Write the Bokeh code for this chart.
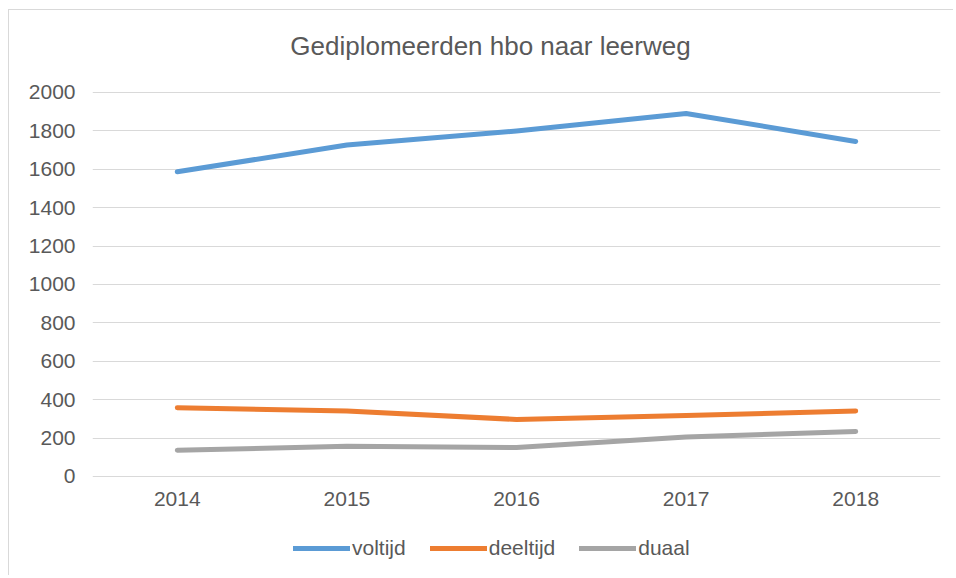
from bokeh.plotting import figure
from bokeh.models import FactorRange, Range1d, Legend, LegendItem
from bokeh.core.properties import value
from bokeh.embed import file_html
from bokeh.resources import INLINE

title_text = "Gediplomeerden hbo naar leerweg"
years = ["2014", "2015", "2016", "2017", "2018"]
voltijd = [1587, 1726, 1799, 1891, 1745]
deeltijd = [358, 341, 297, 318, 341]
duaal = [137, 157, 151, 205, 234]
y_ticks = [0, 200, 400, 600, 800, 1000, 1200, 1400, 1600, 1800, 2000]

FONT = "Liberation Sans"
TXT = "#595959"

# frame extends above and below the value area so title and legend sit inside it
p = figure(width=945, height=566, x_range=FactorRange(*years, range_padding=0),
           y_range=Range1d(-521, 2427), output_backend="svg", toolbar_location=None,
           min_border_left=83, min_border_right=14, min_border_top=0, min_border_bottom=0)
p.styles = {"margin-left": "8px", "margin-top": "9px",
            "border-left": "1px solid #d9d9d9", "border-top": "1px solid #d9d9d9"}

r1 = p.line(years, voltijd, line_color="#5B9BD5", line_width=5, line_cap="round", line_join="round")
r2 = p.line(years, deeltijd, line_color="#ED7D31", line_width=5, line_cap="round", line_join="round")
r3 = p.line(years, duaal, line_color="#A5A5A5", line_width=5, line_cap="round", line_join="round")

# chart title
p.text(x=[years[2]], y=[y_ticks[-1]], text=[title_text], x_offset=-26, y_offset=-46,
       text_align="center", text_baseline="middle",
       text_font=value(FONT), text_font_size="26px", text_color=TXT)

# category labels under the zero line
p.text(x=years, y=[y_ticks[0]] * len(years), text=years, y_offset=23,
       text_align="center", text_baseline="middle",
       text_font=value(FONT), text_font_size="21px", text_color=TXT)

p.xaxis.visible = False
p.yaxis.ticker = y_ticks
p.xgrid.grid_line_color = None
p.ygrid.ticker = y_ticks
p.ygrid.grid_line_color = "#D9D9D9"
p.ygrid.grid_line_width = 1
p.outline_line_color = None

ax = p.yaxis
ax.major_tick_line_color = None
ax.minor_tick_line_color = None
ax.major_tick_out = 0
ax.major_tick_in = 0
ax.minor_tick_out = 0
ax.axis_line_color = None
ax.major_label_text_font = FONT
ax.major_label_text_font_size = "21px"
ax.major_label_text_color = TXT
ax.major_label_standoff = 17

legend = Legend(items=[LegendItem(label="voltijd", renderers=[r1]),
                       LegendItem(label="deeltijd", renderers=[r2]),
                       LegendItem(label="duaal", renderers=[r3])],
                orientation="horizontal", location=(201, 16),
                label_text_font=FONT, label_text_font_size="21px", label_text_color=TXT,
                glyph_width=57, glyph_height=24, label_standoff=2, spacing=24,
                border_line_color=None, background_fill_alpha=0, margin=0, padding=0)
p.add_layout(legend, "center")

open("out.html", "w").write(file_html(p, INLINE))
